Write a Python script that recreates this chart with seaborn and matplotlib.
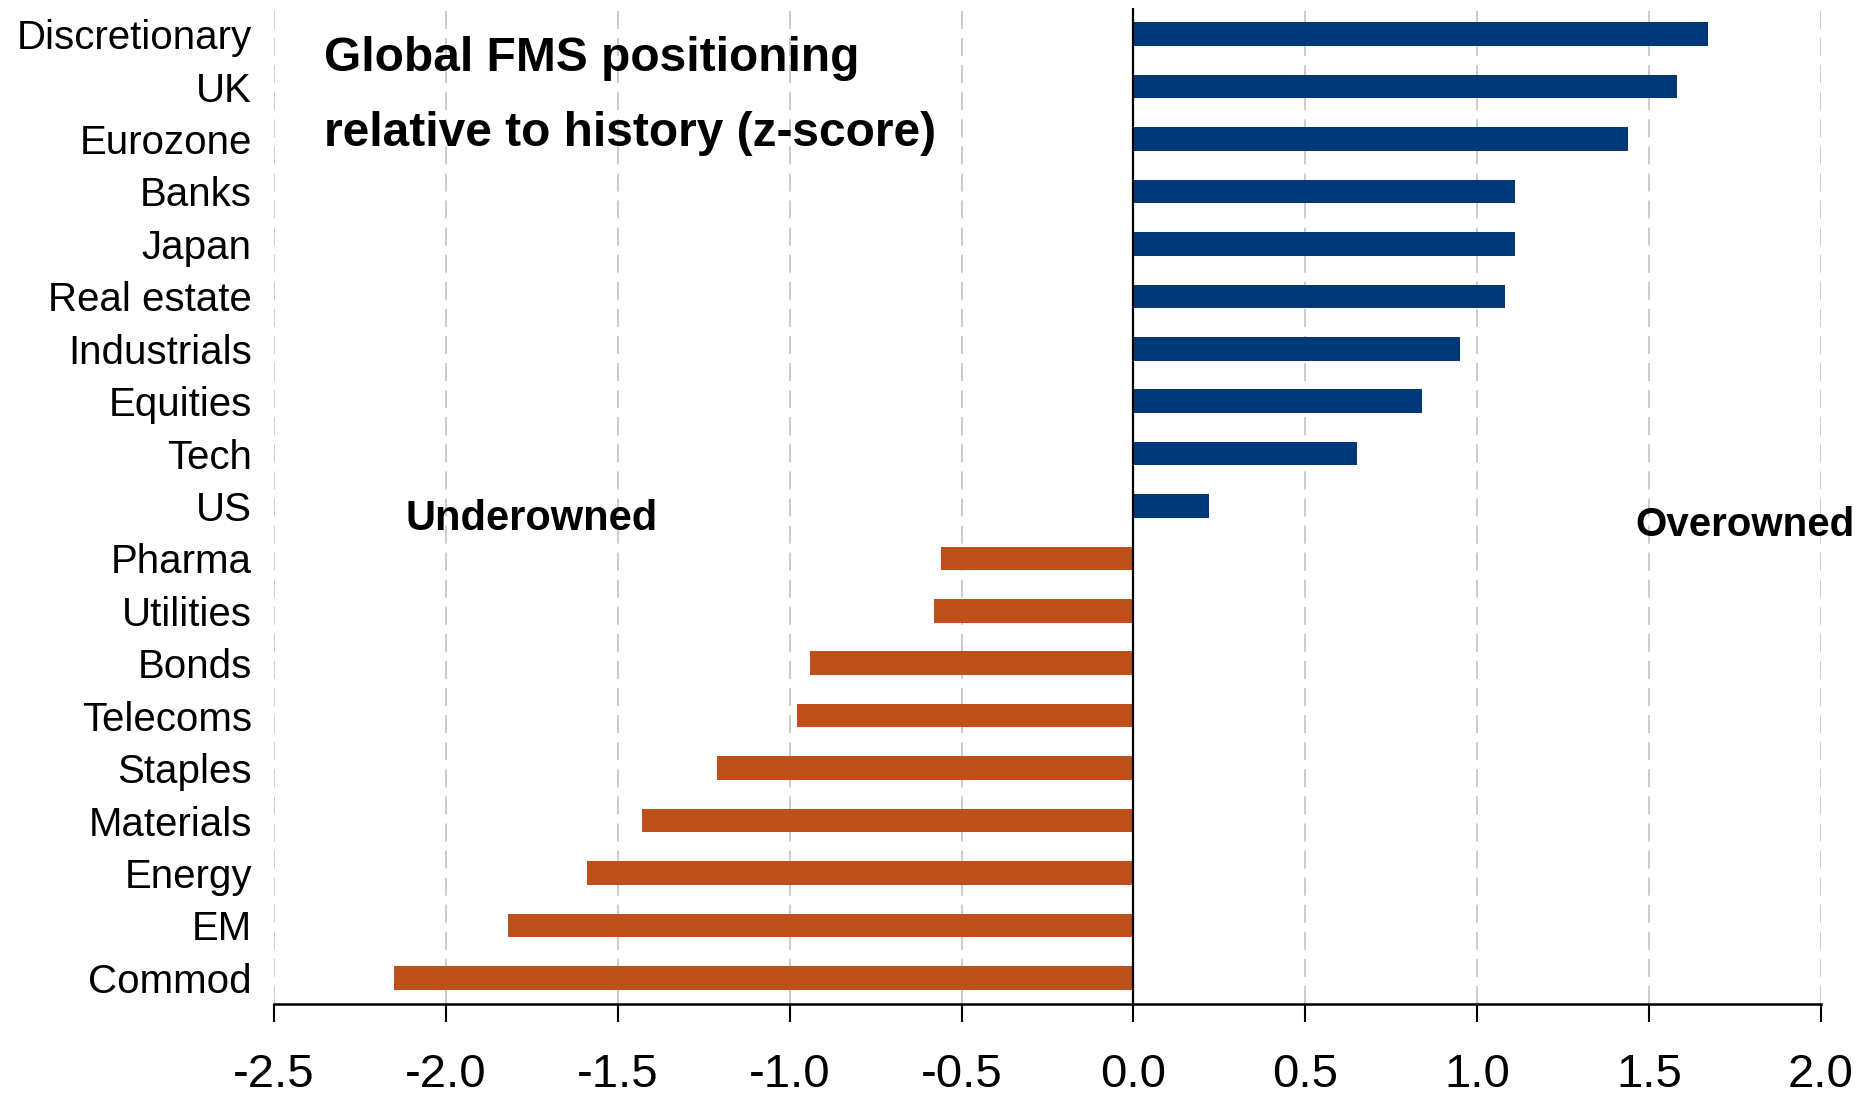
import matplotlib
matplotlib.use("Agg")
import matplotlib.pyplot as plt
import matplotlib.transforms as mtransforms
import seaborn as sns
import pandas as pd
import numpy as np

categories = ["Discretionary", "UK", "Eurozone", "Banks", "Japan", "Real estate",
              "Industrials", "Equities", "Tech", "US", "Pharma", "Utilities", "Bonds",
              "Telecoms", "Staples", "Materials", "Energy", "EM", "Commod"]
values = [1.67, 1.58, 1.44, 1.11, 1.11, 1.08, 0.95, 0.84, 0.65, 0.22,
          -0.56, -0.58, -0.94, -0.98, -1.21, -1.43, -1.59, -1.82, -2.15]
x_ticks = [-2.5, -2.0, -1.5, -1.0, -0.5, 0.0, 0.5, 1.0, 1.5, 2.0]
x_tick_labels = ["-2.5", "-2.0", "-1.5", "-1.0", "-0.5", "0.0", "0.5", "1.0", "1.5", "2.0"]
title_lines = ["Global FMS positioning", "relative to history (z-score)"]
left_note = "Underowned"
right_note = "Overowned"

BLUE = "#00387A"
ORANGE = "#BD501B"

sns.set_theme(style="white")
plt.rcParams['font.family'] = ['Liberation Sans', 'DejaVu Sans']
plt.rcParams['text.color'] = 'black'
plt.rcParams['xtick.color'] = 'black'
plt.rcParams['ytick.color'] = 'black'

df = pd.DataFrame({"cat": categories, "val": values})
df["side"] = np.where(df["val"] >= 0, "over", "under")

fig = plt.figure(figsize=(18.59, 11.05), dpi=100)
ax = fig.add_axes([274/1859, 1 - 1004/1105, (1821-274)/1859, (1004-8)/1105])

sns.barplot(data=df, x="val", y="cat", hue="side", order=categories,
            palette={"over": BLUE, "under": ORANGE}, dodge=False, width=0.45,
            legend=False, ax=ax, saturation=1, edgecolor="none", linewidth=0)

ax.set_xlim(-2.5, 2.0)
ax.set_ylim(18.5, -0.5)
ax.set_xticks(x_ticks)
ax.set_xticklabels(x_tick_labels, fontsize=34, color="black")
ax.set_xlabel("")
ax.set_ylabel("")

offset = mtransforms.ScaledTranslation(0, 6/100, fig.dpi_scale_trans)
for t in ax.get_yticklabels():
    t.set_fontsize(29)
    t.set_color("black")
    t.set_transform(t.get_transform() + offset)
ax.tick_params(axis="y", length=0, pad=16)
ax.tick_params(axis="x", direction="out", length=13, width=1.5, color="black", pad=22,
               bottom=True)

ax.grid(False)
for xv in x_ticks:
    ax.axvline(xv, color="#C8C8C8", lw=1.3, dashes=(10, 5), zorder=0)
ax.axvline(0, color="black", lw=1.6, zorder=3)

for s in ["left", "right", "top"]:
    ax.spines[s].set_visible(False)
ax.spines["bottom"].set_color("black")
ax.spines["bottom"].set_linewidth(1.8)

for line, ybase in zip(title_lines, [71, 146]):
    fig.text(324/1859, 1 - ybase/1105, line, fontsize=34.5, fontweight="bold",
             va="baseline", ha="left", color="black")
fig.text(532/1859, 1 - 519/1105, left_note, fontsize=30, fontweight="bold",
         va="center", ha="center", color="black")
fig.text(1855/1859, 1 - 525/1105, right_note, fontsize=29, fontweight="bold",
         va="center", ha="right", color="black")

fig.savefig("out.png", dpi=100)
